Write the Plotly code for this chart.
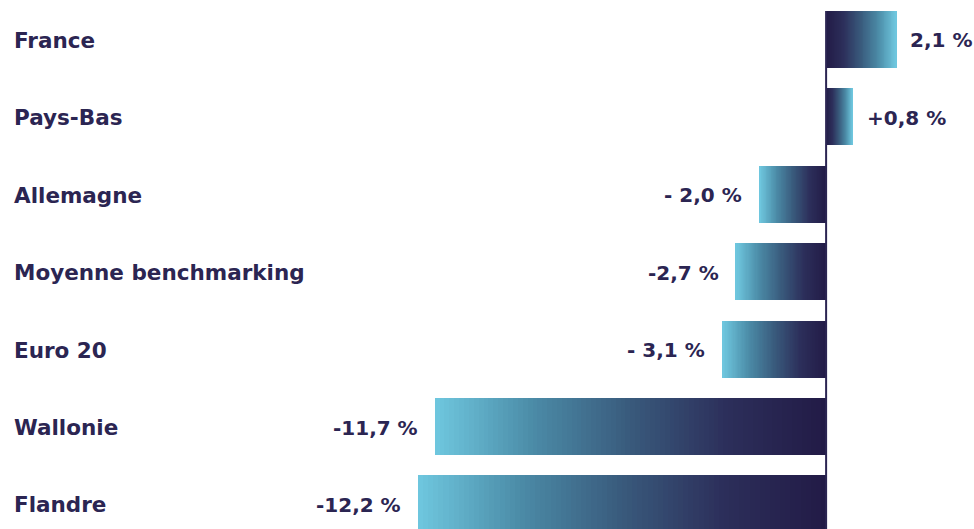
import plotly.graph_objects as go

categories = ["France", "Pays-Bas", "Allemagne", "Moyenne benchmarking", "Euro 20", "Wallonie", "Flandre"]
values = [2.1, 0.8, -2.0, -2.7, -3.1, -11.7, -12.2]
value_labels = ["2,1 %", "+0,8 %", "- 2,0 %", "-2,7 %", "- 3,1 %", "-11,7 %", "-12,2 %"]

TEXT = "#2b2552"
FONT = "DejaVu Sans"
STOPS = [(0.0, (34, 27, 70)), (0.25, (44, 46, 90)), (0.5, (57, 90, 124)),
         (0.75, (75, 139, 167)), (1.0, (111, 200, 223))]


def grad(t):
    for (t0, c0), (t1, c1) in zip(STOPS, STOPS[1:]):
        if t <= t1:
            f = (t - t0) / (t1 - t0)
            return "rgb(%d,%d,%d)" % tuple(round(a + (b - a) * f) for a, b in zip(c0, c1))
    return "rgb(%d,%d,%d)" % STOPS[-1][1]


N = 80
ys, xs, bases, cols = [], [], [], []
for cat, v in zip(categories, values):
    for i in range(N):
        ys.append(cat)
        bases.append(v * i / N)
        xs.append(v / N)
        cols.append(grad((i + 0.5) / N))

fig = go.Figure()
fig.add_trace(go.Bar(
    y=ys, x=xs, base=bases, orientation="h",
    marker=dict(color=cols, line=dict(width=0)),
    width=0.735, hoverinfo="skip", showlegend=False,
))

for cat, v, lab in zip(categories, values, value_labels):
    fig.add_annotation(
        x=v, y=cat, xref="x", yref="y", text=lab,
        showarrow=False, xanchor="left" if v > 0 else "right",
        xshift=12 if v > 0 else -15, yshift=-1,
        font=dict(family=FONT, size=20, color=TEXT, weight="bold"),
    )
    fig.add_annotation(
        x=12 / 974, y=cat, xref="paper", yref="y", text=cat,
        showarrow=False, xanchor="left", yshift=-1,
        font=dict(family=FONT, size=21.5, color=TEXT, weight="bold"),
    )

fig.add_shape(type="line", xref="x", yref="paper", x0=0, x1=0,
              y0=0, y1=1 - 11 / 529, line=dict(color=TEXT, width=2))

fig.update_layout(
    width=974, height=529,
    margin=dict(l=0, r=0, t=0, b=0),
    paper_bgcolor="white", plot_bgcolor="white",
    barmode="overlay", bargap=0,
    xaxis=dict(range=[-24.69, 4.42], visible=False, fixedrange=True),
    yaxis=dict(categoryorder="array", categoryarray=categories,
               range=[6.324, -0.510], visible=False, fixedrange=True),
)

fig.write_html("out.html", config={"displayModeBar": False},
               post_script="document.body.style.margin='0';document.body.style.overflow='hidden';")
